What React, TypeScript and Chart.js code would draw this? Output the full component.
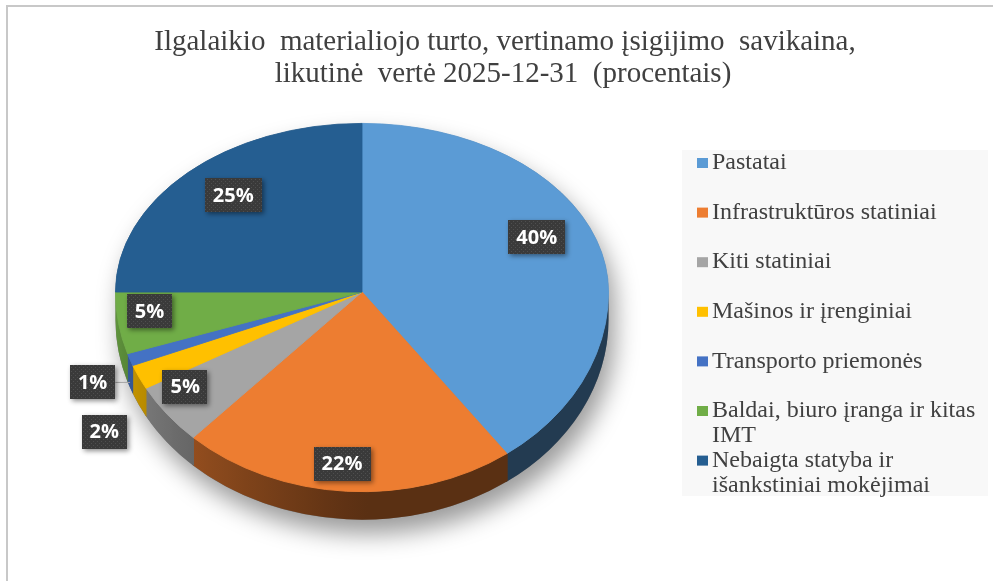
import React, { useEffect, useRef } from "react";
import { Chart, registerables } from "chart.js";

Chart.register(...registerables);

const titleLines = [
  "Ilgalaikio  materialiojo turto, vertinamo įsigijimo  savikaina,",
  "likutinė  vertė 2025-12-31  (procentais)",
];
const categories = [
  "Pastatai",
  "Infrastruktūros statiniai",
  "Kiti statiniai",
  "Mašinos ir įrenginiai",
  "Transporto priemonės",
  "Baldai, biuro įranga ir kitas IMT",
  "Nebaigta statyba ir išankstiniai mokėjimai",
];
const shares = [40, 22, 5, 2, 1, 5, 25];
const colors = ["#5B9BD5", "#ED7D31", "#A5A5A5", "#FFC000", "#4472C4", "#70AD47", "#255E91"];

// label layout (radial factor and angular shift in degrees)
const labelRadius = [0.78, 0.864, 0.86, 1.258, 1.182, 0.867, 0.776];
const labelShiftDeg = [-6.6, 1.8, 4.3, -8.6, -2.6, 2.7, 2.7];
const leaderIndex = [4];

const W = 993;
const H = 581;
const CY = 292;
const KT = 0.684;
const KB = 0.81;
const DEPTH = 28;

function shade(hex: string, f: number) {
  const n = parseInt(hex.slice(1), 16);
  const r = (n >> 16) & 255, g = (n >> 8) & 255, b = n & 255;
  const c = (v: number) => Math.min(255, Math.round(v * f));
  return `rgb(${c(r)},${c(g)},${c(b)})`;
}
const wallFactor = (a: number) => {
  const t = Math.max(0, (a - Math.PI / 2) / (Math.PI / 2));
  return 0.38 + 0.5 * t;
};

function pt(cx: number, R: number, a: number, f: number) {
  const s = Math.sin(a);
  return { x: cx + f * R * Math.cos(a), y: CY + f * R * s * (s < 0 ? KT : KB) };
}

function wrap(ctx: CanvasRenderingContext2D, text: string, maxW: number) {
  const words = text.split(" ");
  const lines: string[] = [];
  let cur = "";
  for (const w of words) {
    const t = cur ? cur + " " + w : w;
    if (cur && ctx.measureText(t).width > maxW) {
      lines.push(cur);
      cur = w;
    } else cur = t;
  }
  if (cur) lines.push(cur);
  return lines;
}

const pie3d = {
  id: "pie3d",
  beforeDraw(chart: any) {
    const ctx = chart.ctx as CanvasRenderingContext2D;
    ctx.save();
    ctx.fillStyle = "#ffffff";
    ctx.fillRect(0, 0, chart.width, chart.height);
    ctx.fillStyle = "#c8c8c8";
    ctx.fillRect(6, 5, chart.width, 2);
    ctx.fillRect(6, 5, 2, chart.height);
    // title
    ctx.fillStyle = "#404040";
    ctx.font = '29px "Liberation Serif"';
    ctx.textAlign = "center";
    ctx.textBaseline = "alphabetic";
    ctx.fillText(titleLines[0], 505, 50);
    ctx.fillText(titleLines[1], 503, 82);
    // legend
    ctx.fillStyle = "#f8f8f8";
    ctx.fillRect(682, 150, 306, 346);
    ctx.font = '24px "Liberation Serif"';
    ctx.textAlign = "left";
    ctx.textBaseline = "middle";
    categories.forEach((c, i) => {
      const y = 163 + i * 49.6;
      ctx.fillStyle = colors[i];
      ctx.fillRect(697, y - 5, 11, 10);
      ctx.fillStyle = "#404040";
      const lines = wrap(ctx, c, 276);
      lines.forEach((l, j) => ctx.fillText(l, 712, y + j * 25));
    });
    ctx.restore();
  },
  beforeDatasetsDraw(chart: any) {
    const ctx = chart.ctx as CanvasRenderingContext2D;
    const meta = chart.getDatasetMeta(0);
    const arcs = meta.data as any[];
    if (!arcs.length) return;
    const cx = arcs[0].x, cyC = arcs[0].y, R = arcs[0].outerRadius;
    // shadow base
    ctx.save();
    ctx.beginPath();
    ctx.ellipse(cx, CY, R, R * KT, 0, Math.PI, 2 * Math.PI);
    ctx.lineTo(cx + R, CY + DEPTH);
    ctx.ellipse(cx, CY + DEPTH, R, R * KB, 0, 0, Math.PI);
    ctx.closePath();
    ctx.shadowColor = "rgba(0,0,0,0.4)";
    ctx.shadowBlur = 24;
    ctx.shadowOffsetX = 6;
    ctx.shadowOffsetY = 14;
    ctx.fillStyle = "#777777";
    ctx.fill();
    ctx.restore();
    // walls
    arcs.forEach((arc: any, i: number) => {
      const a1 = Math.max(arc.startAngle, 0);
      const a2 = Math.min(arc.endAngle, Math.PI);
      if (a2 <= a1) return;
      const b1 = Math.max(a1 - 0.004, 0), b2 = Math.min(a2 + 0.004, Math.PI);
      ctx.save();
      ctx.beginPath();
      ctx.ellipse(cx, CY, R, R * KB, 0, b1, b2);
      ctx.ellipse(cx, CY + DEPTH, R, R * KB, 0, b2, b1, true);
      ctx.closePath();
      const x1 = cx + R * Math.cos(a1), x2 = cx + R * Math.cos(a2);
      if (Math.abs(x1 - x2) > 0.5) {
        const g = ctx.createLinearGradient(x1, 0, x2, 0);
        const N = 16;
        for (let k = 0; k <= N; k++) {
          const a = a1 + ((a2 - a1) * k) / N;
          const x = cx + R * Math.cos(a);
          const pos = Math.min(1, Math.max(0, (x - x1) / (x2 - x1)));
          g.addColorStop(pos, shade(colors[i], wallFactor(a)));
        }
        ctx.fillStyle = g;
      } else ctx.fillStyle = shade(colors[i], wallFactor((a1 + a2) / 2));
      ctx.fill();
      ctx.restore();
    });
    // top face in two halves (perspective)
    const half = (top: boolean) => {
      ctx.save();
      ctx.beginPath();
      if (top) ctx.rect(0, 0, chart.width, CY);
      else ctx.rect(0, CY, chart.width, chart.height - CY);
      ctx.clip();
      ctx.translate(0, CY);
      ctx.scale(1, top ? KT : KB);
      ctx.translate(0, -cyC);
      meta.controller.draw();
      ctx.restore();
    };
    half(true);
    half(false);
    return false;
  },
  afterDraw(chart: any) {
    const ctx = chart.ctx as CanvasRenderingContext2D;
    const meta = chart.getDatasetMeta(0);
    const arcs = meta.data as any[];
    if (!arcs.length) return;
    const cx = arcs[0].x, R = arcs[0].outerRadius;
    const total = shares.reduce((a, b) => a + b, 0);
    const pc = document.createElement("canvas");
    pc.width = 4; pc.height = 4;
    const p = pc.getContext("2d")!;
    p.fillStyle = "#3a3a3a"; p.fillRect(0, 0, 4, 4);
    p.fillStyle = "#4f4f4f"; p.fillRect(1, 1, 1, 1); p.fillRect(3, 3, 1, 1);
    const pattern = ctx.createPattern(pc, "repeat")!;
    arcs.forEach((arc: any, i: number) => {
      const mid = (arc.startAngle + arc.endAngle) / 2 + (labelShiftDeg[i] * Math.PI) / 180;
      const c = pt(cx, R, mid, labelRadius[i]);
      const text = Math.round((shares[i] / total) * 100) + "%";
      ctx.save();
      ctx.font = 'bold 20px "Open Sans"';
      const tw = ctx.measureText(text).width;
      const bw = tw + 16, bh = 34;
      if (leaderIndex.includes(i)) {
        const rm = (arc.startAngle + arc.endAngle) / 2;
        ctx.strokeStyle = "#a6a6a6";
        ctx.lineWidth = 1;
        ctx.beginPath();
        ctx.moveTo(c.x + bw / 2, c.y + 0.5);
        ctx.lineTo(cx + R * Math.cos(rm), c.y + 0.5);
        ctx.stroke();
      }
      ctx.shadowColor = "rgba(0,0,0,0.45)";
      ctx.shadowBlur = 5;
      ctx.shadowOffsetX = 2;
      ctx.shadowOffsetY = 2;
      ctx.fillStyle = pattern;
      ctx.fillRect(Math.round(c.x - bw / 2), Math.round(c.y - bh / 2), Math.round(bw), bh);
      ctx.shadowColor = "transparent";
      ctx.fillStyle = "#ffffff";
      ctx.textAlign = "center";
      ctx.textBaseline = "middle";
      ctx.fillText(text, c.x, c.y + 1);
      ctx.restore();
    });
  },
};

export default function App() {
  const ref = useRef<HTMLCanvasElement>(null);
  useEffect(() => {
    if (!ref.current) return;
    const chart = new Chart(ref.current, {
      type: "pie",
      data: {
        labels: categories,
        datasets: [
          {
            data: shares,
            backgroundColor: colors,
            borderColor: colors,
            borderWidth: 1,
            hoverOffset: 0,
            offset: 0,
          },
        ],
      },
      options: {
        responsive: false,
        animation: false,
        events: [],
        layout: { padding: { left: 115, right: W - 609, top: 0, bottom: 0 } },
        plugins: {
          legend: { display: false },
          title: { display: false },
          tooltip: { enabled: false },
        },
      },
      plugins: [pie3d as any],
    });
    return () => chart.destroy();
  }, []);
  return (
    <div style={{ position: "fixed", left: 0, top: 0, width: W, height: H, background: "#fff" }}>
      <canvas ref={ref} width={W} height={H} style={{ display: "block" }} />
    </div>
  );
}
